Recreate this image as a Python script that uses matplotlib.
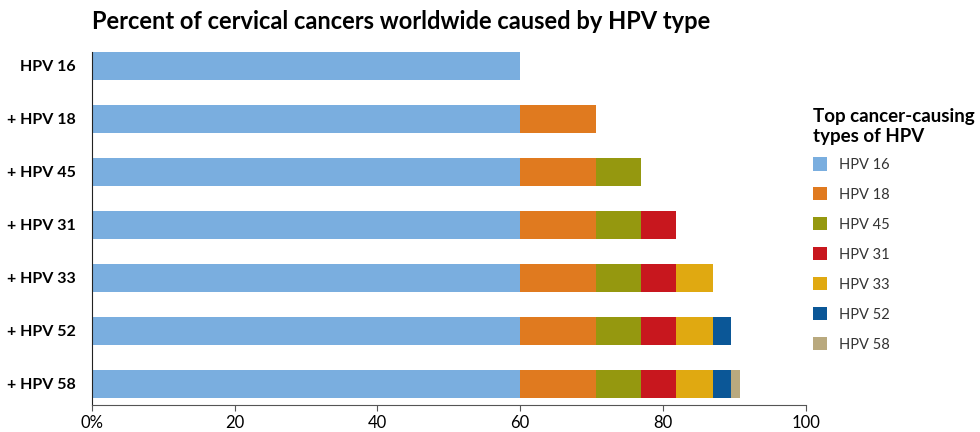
import numpy as np
import matplotlib.pyplot as plt
from matplotlib.patches import Patch

plt.rcParams["font.family"] = ["Lato", "DejaVu Sans"]

# Data
row_labels = ["HPV 16", "+ HPV 18", "+ HPV 45", "+ HPV 31", "+ HPV 33", "+ HPV 52", "+ HPV 58"]
types = ["HPV 16", "HPV 18", "HPV 45", "HPV 31", "HPV 33", "HPV 52", "HPV 58"]
shares = [60.0, 10.6, 6.3, 4.9, 5.2, 2.5, 1.3]
colors = ["#7aaedf", "#e07a1f", "#95980f", "#c8171e", "#e0a911", "#0b5797", "#b9a97e"]
x_ticks = [0, 20, 40, 60, 80, 100]
x_ticklabels = ["0%", "20", "40", "60", "80", "100"]

fig = plt.figure(figsize=(9.8, 4.32), dpi=100)
ax = fig.add_axes([0.094, 0.0625, 0.728, 0.817])

y = np.arange(len(row_labels))
for i in range(len(types)):
    # segment i shows up in row i and every row below it
    rows = y[i:]
    left = sum(shares[:i])
    ax.barh(rows, shares[i], left=left, height=0.52, color=colors[i], linewidth=0)

ax.set_xlim(0, 100)
ax.set_ylim(6.4, -0.26)
ax.set_yticks(y)
ax.set_yticklabels(row_labels, fontsize=11.5, fontweight="bold")
ax.tick_params(axis="y", length=0, pad=12)
ax.set_xticks(x_ticks)
ax.set_xticklabels(x_ticklabels, fontsize=12)
ax.tick_params(axis="x", length=4, width=0.8, color="#555555")

for s in ["top", "right"]:
    ax.spines[s].set_visible(False)
ax.spines["left"].set_color("#222222")
ax.spines["bottom"].set_color("#555555")

fig.text(0.094, 0.95, "Percent of cervical cancers worldwide caused by HPV type",
         fontsize=17, fontweight="bold", va="center", ha="left")

handles = [Patch(facecolor=c, edgecolor="none") for c in colors]
leg = fig.legend(handles, types, loc="upper left", bbox_to_anchor=(0.816, 0.78),
                 frameon=False, fontsize=10.5, title="Top cancer-causing\ntypes of HPV",
                 title_fontproperties={"weight": "bold", "size": 13.5},
                 alignment="left", handlelength=1.0, handleheight=1.0,
                 labelspacing=1.06, handletextpad=0.8)
leg._legend_box.sep = 9
for t in leg.get_texts():
    t.set_color("#333333")

plt.savefig("out.png", dpi=100)
